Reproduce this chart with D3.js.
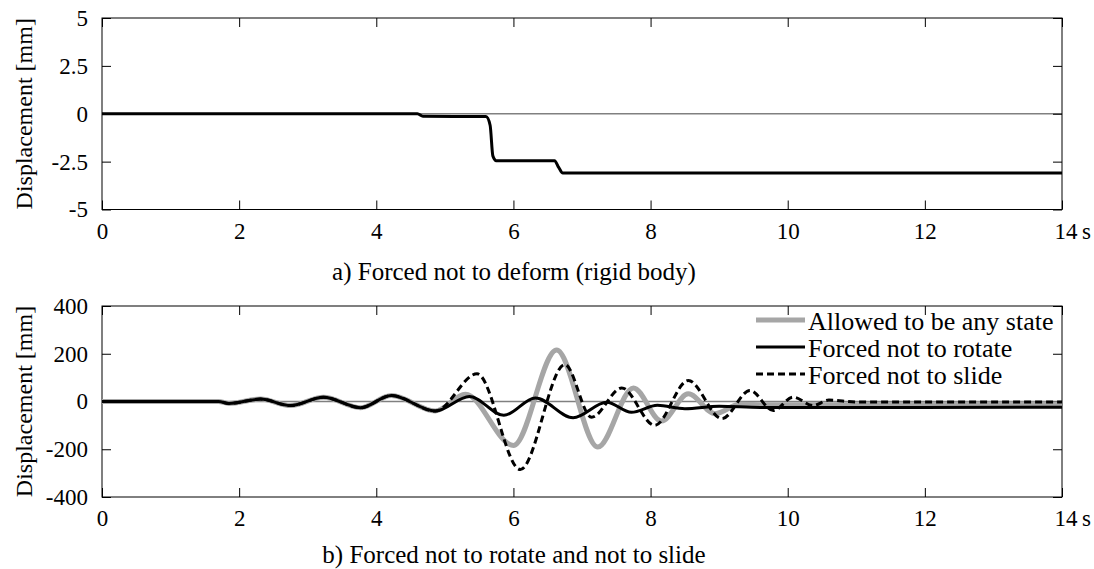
<!DOCTYPE html>
<html>
<head>
<meta charset="utf-8">
<script src="https://cdn.jsdelivr.net/npm/d3@7"></script>
<style>
  body { margin: 0; background: #fff; }
</style>
</head>
<body>
<svg id="chart" width="1094" height="569"></svg>
<script>
// shared time axis
const timeTicks = [0, 2, 4, 6, 8, 10, 12, 14];

// a) rigid body
const rigidTime = [0, 4.6, 4.68, 5.6, 5.66, 5.7, 5.75, 6.6, 6.66, 6.72, 14];
const rigidDisp = [0, 0, -0.13, -0.15, -0.6, -2.2, -2.45, -2.45, -2.8, -3.1, -3.1];
const rigidTicks = [5, 2.5, 0, -2.5, -5];

// b) three support conditions
const anyTime = [0, 1.7, 1.85, 2.31, 2.75, 3.23, 3.77, 4.22, 4.86, 5.3, 6.0, 6.63, 7.23, 7.75, 8.16, 8.55, 8.94, 9.3, 9.7, 14];
const anyDisp = [0, 0, -8, 10, -17, 18, -26, 25, -40, 30, -184, 216, -191, 57, -82, 32, -51, -12, -14, -10];

const rotTime = [0, 1.7, 1.85, 2.31, 2.75, 3.23, 3.77, 4.22, 4.86, 5.36, 5.86, 6.32, 6.87, 7.36, 7.72, 8.1, 8.5, 9.0, 9.6, 14];
const rotDisp = [0, 0, -8, 10, -17, 18, -26, 25, -40, 21, -58, 15, -68, -3, -45, -16, -30, -20, -25, -24];

const slideTime = [0, 1.7, 1.85, 2.31, 2.75, 3.23, 3.77, 4.22, 4.86, 5.47, 6.1, 6.75, 7.14, 7.58, 8.06, 8.55, 9.04, 9.45, 9.79, 10.08, 10.37, 10.6, 11.0, 14];
const slideDisp = [0, 0, -8, 10, -17, 18, -26, 25, -40, 116, -285, 155, -66, 57, -100, 88, -72, 46, -38, 18, -17, 6, -2, -2];

const dispTicks = [400, 200, 0, -200, -400];
const seriesNames = ['Allowed to be any state', 'Forced not to rotate', 'Forced not to slide'];

const FONT = "'Liberation Serif', 'DejaVu Serif', serif";
const svg = d3.select('#chart');
const left = 102, right = 1062;

function fmt(v) {
    return String(v); // plain hyphen for negatives
}

// Draws frame, ticks, zero line and labels for one panel; returns scales
function drawPanel(top, bottom, yDomain, yTicks, title, titleY) {
    const x = d3.scaleLinear().domain([0, 14]).range([left, right]);
    const y = d3.scaleLinear().domain(yDomain).range([bottom, top]);
    const g = svg.append('g');

    // zero line
    g.append('line')
        .attr('x1', left).attr('x2', right)
        .attr('y1', y(0)).attr('y2', y(0))
        .attr('stroke', '#808080')
        .attr('stroke-width', 1.6);

    const xAxis = d3.axisBottom(x).tickValues(timeTicks).tickSizeInner(-9).tickSizeOuter(0)
        .tickPadding(13).tickFormat(fmt);
    const ax = g.append('g').attr('transform', `translate(0,${bottom})`).call(xAxis);
    ax.select('.tick:last-of-type text')
        .attr('text-anchor', 'start').attr('x', -8)
        .text('14\u2009s');
    g.append('g').attr('transform', `translate(0,${top})`)
        .call(d3.axisTop(x).tickValues(timeTicks).tickSizeInner(-9).tickSizeOuter(0).tickFormat(''));
    g.append('g').attr('transform', `translate(${left},0)`)
        .call(d3.axisLeft(y).tickValues(yTicks).tickSizeInner(-9).tickSizeOuter(0)
            .tickPadding(14).tickFormat(fmt));
    g.append('g').attr('transform', `translate(${right},0)`)
        .call(d3.axisRight(y).tickValues(yTicks).tickSizeInner(-9).tickSizeOuter(0).tickFormat(''));

    g.selectAll('.domain').remove();
    g.selectAll('g').attr('font-family', FONT).attr('font-size', 23);
    g.selectAll('.tick line').attr('stroke', '#000');
    g.selectAll('.tick text').attr('fill', '#000');

    // frame
    g.append('rect')
        .attr('x', left).attr('y', top)
        .attr('width', right - left).attr('height', bottom - top)
        .attr('fill', 'none').attr('stroke', '#000').attr('stroke-width', 1);

    // y label
    g.append('text')
        .attr('transform', `translate(32,${(top + bottom) / 2}) rotate(-90)`)
        .attr('text-anchor', 'middle')
        .attr('font-family', FONT)
        .attr('font-size', 24)
        .text('Displacement [mm]');

    // panel caption
    svg.append('text')
        .attr('x', 514).attr('y', titleY)
        .attr('text-anchor', 'middle')
        .attr('font-family', FONT)
        .attr('font-size', 25)
        .text(title);

    return { x, y };
}

const topPanel = drawPanel(18, 209.5, [-5, 5], rigidTicks, 'a) Forced not to deform (rigid body)', 280);
const botPanel = drawPanel(306, 497, [-400, 400], dispTicks, 'b) Forced not to rotate and not to slide', 563);

// top line
const lineTop = d3.line()
    .x(d => topPanel.x(d[0]))
    .y(d => topPanel.y(d[1]))
    .curve(d3.curveMonotoneX);

svg.append('path')
    .datum(d3.zip(rigidTime, rigidDisp))
    .attr('d', lineTop)
    .attr('fill', 'none')
    .attr('stroke', '#000')
    .attr('stroke-width', 3);

// bottom lines
const lineBot = d3.line()
    .x(d => botPanel.x(d[0]))
    .y(d => botPanel.y(d[1]))
    .curve(d3.curveMonotoneX);

const styles = [
    { color: '#a6a6a6', width: 5, dash: null },
    { color: '#000', width: 3, dash: null },
    { color: '#000', width: 3, dash: '7,4' }
];
const series = [
    d3.zip(anyTime, anyDisp),
    d3.zip(rotTime, rotDisp),
    d3.zip(slideTime, slideDisp)
];

series.forEach((s, i) => {
    svg.append('path')
        .datum(s)
        .attr('d', lineBot)
        .attr('fill', 'none')
        .attr('stroke', styles[i].color)
        .attr('stroke-width', styles[i].width)
        .attr('stroke-dasharray', styles[i].dash);
});

// legend
const legend = svg.append('g');
seriesNames.forEach((name, i) => {
    const ly = 320 + i * 27;
    legend.append('line')
        .attr('x1', 756).attr('x2', 805)
        .attr('y1', ly).attr('y2', ly)
        .attr('stroke', styles[i].color)
        .attr('stroke-width', styles[i].width)
        .attr('stroke-dasharray', styles[i].dash);
    legend.append('text')
        .attr('x', 808).attr('y', ly + 10)
        .attr('font-family', FONT)
        .attr('font-size', 26)
        .text(name);
});
</script>
</body>
</html>
